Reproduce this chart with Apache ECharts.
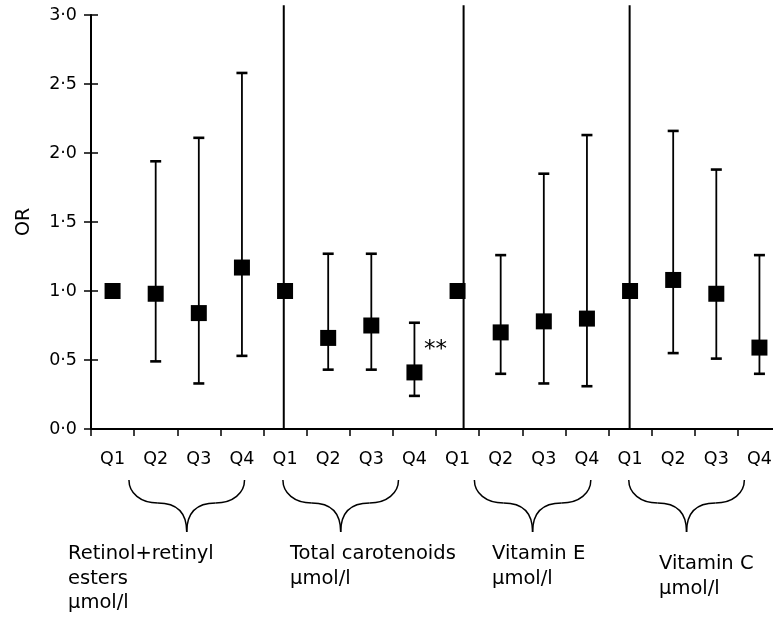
<!DOCTYPE html>
<html>
<head>
<meta charset="utf-8">
<title>OR by quartile</title>
<script src="https://cdn.jsdelivr.net/npm/echarts@6/dist/echarts.min.js"></script>
<style>
  html, body { margin: 0; padding: 0; background: #fff; }
  #chart { width: 773px; height: 617px; }
</style>
</head>
<body>
<div id="chart"></div>
<script>
// quartile categories, four per nutrient
var quartiles = ['Q1', 'Q2', 'Q3', 'Q4', 'Q1', 'Q2', 'Q3', 'Q4',
                 'Q1', 'Q2', 'Q3', 'Q4', 'Q1', 'Q2', 'Q3', 'Q4'];
var nutrients = ['Retinol+retinyl\nesters\nµmol/l', 'Total carotenoids\nµmol/l',
                 'Vitamin E\nµmol/l', 'Vitamin C\nµmol/l'];
// odds ratios and 95% CI (Q1 is the reference, no CI)
var oddsRatio = [1.00, 0.98, 0.84, 1.17, 1.00, 0.66, 0.75, 0.41,
                 1.00, 0.70, 0.78, 0.80, 1.00, 1.08, 0.98, 0.59];
var ciLow  = [null, 0.49, 0.33, 0.53, null, 0.43, 0.43, 0.24,
              null, 0.40, 0.33, 0.31, null, 0.55, 0.51, 0.40];
var ciHigh = [null, 1.94, 2.11, 2.58, null, 1.27, 1.27, 0.77,
              null, 1.26, 1.85, 2.13, null, 2.16, 1.88, 1.26];
var significant = ['', '', '', '', '', '', '', '**', '', '', '', '', '', '', '', ''];

var FONT = 'DejaVu Sans';
var chart = echarts.init(document.getElementById('chart'), null, { renderer: 'canvas' });

var errData = [];
for (var i = 0; i < oddsRatio.length; i++) {
  if (ciLow[i] != null) errData.push([i, ciLow[i], ciHigh[i]]);
}
var pointData = oddsRatio.map(function (v, i) {
  var item = { value: v };
  if (significant[i]) {
    item.label = {
      show: true, formatter: significant[i], position: [29, -14],
      align: 'center', verticalAlign: 'middle',
      fontSize: 23, fontFamily: FONT, color: '#000'
    };
  }
  return item;
});

// divider lines sit between groups (x in quartile units, 0..16)
var dividers = [[4.47], [8.64], [12.49]];

var yFmt = function (v) { return v.toFixed(1).replace('.', '·'); };

chart.setOption({
  animation: false,
  backgroundColor: '#fff',
  grid: { left: 91, top: 15, width: 690, height: 414, containLabel: false, outerBoundsMode: 'none' },
  xAxis: [{
    type: 'category',
    data: quartiles,
    boundaryGap: true,
    axisLine: { lineStyle: { color: '#000', width: 2 } },
    axisTick: { show: true, length: 7, lineStyle: { color: '#000', width: 1.5 } },
    axisLabel: { interval: 0, margin: 21, color: '#000', fontSize: 17.5, fontFamily: FONT, hideOverlap: false },
    splitLine: { show: false }
  }, {
    type: 'value', min: 0, max: 16, show: false
  }],
  yAxis: [{
    type: 'value', min: 0, max: 3, interval: 0.5,
    name: 'OR', nameLocation: 'middle', nameGap: 57, nameRotate: 90,
    nameTextStyle: { color: '#000', fontSize: 19, fontFamily: FONT },
    axisLine: { show: true, lineStyle: { color: '#000', width: 2 } },
    axisTick: { show: true, length: 7, lineStyle: { color: '#000', width: 1.5 } },
    axisLabel: { margin: 14, color: '#000', fontSize: 17.5, fontFamily: FONT, formatter: yFmt },
    splitLine: { show: false }
  }, {
    type: 'value', min: 0, max: 3, interval: 0.5, position: 'left',
    axisLine: { show: false },
    axisTick: { show: true, inside: true, length: 7, lineStyle: { color: '#000', width: 1.5 } },
    axisLabel: { show: false },
    splitLine: { show: false }
  }],
  series: [{
    type: 'custom',
    name: 'dividers',
    xAxisIndex: 1,
    yAxisIndex: 0,
    z: 1,
    clip: false,
    data: dividers,
    renderItem: function (params, api) {
      var b = api.coord([api.value(0), 0]);
      var t = api.coord([api.value(0), 3.07]);
      return {
        type: 'line',
        shape: { x1: b[0], y1: b[1], x2: t[0], y2: t[1] },
        style: { stroke: '#000', lineWidth: 2 }
      };
    }
  }, {
    type: 'custom',
    name: 'ci',
    xAxisIndex: 0,
    yAxisIndex: 0,
    z: 2,
    encode: { x: 0, y: [1, 2] },
    data: errData,
    renderItem: function (params, api) {
      var lo = api.coord([api.value(0), api.value(1)]);
      var hi = api.coord([api.value(0), api.value(2)]);
      var cap = 5.5;
      return {
        type: 'group',
        children: [
          { type: 'line', shape: { x1: lo[0], y1: lo[1], x2: hi[0], y2: hi[1] },
            style: { stroke: '#000', lineWidth: 1.8 } },
          { type: 'line', shape: { x1: lo[0] - cap, y1: lo[1], x2: lo[0] + cap, y2: lo[1] },
            style: { stroke: '#000', lineWidth: 2.6 } },
          { type: 'line', shape: { x1: hi[0] - cap, y1: hi[1], x2: hi[0] + cap, y2: hi[1] },
            style: { stroke: '#000', lineWidth: 2.6 } }
        ]
      };
    }
  }, {
    type: 'scatter',
    name: 'OR',
    xAxisIndex: 0,
    yAxisIndex: 0,
    z: 3,
    symbol: 'rect',
    symbolSize: 16,
    itemStyle: { color: '#000', opacity: 1 },
    data: pointData
  }]
});

// braces under each nutrient group + the group names
var braceSpan = [[0.88, 3.56], [4.45, 7.13], [8.89, 11.59], [12.47, 15.15]];
var labelPos = [[68, 542], [290, 542], [492, 542], [659, 552]];
var top0 = 480, mid0 = 503, tip0 = 532;
var graphics = [];
var bez = function (x1, y1, c1x, c1y, c2x, c2y, x2, y2) {
  return {
    type: 'bezierCurve',
    shape: { x1: x1, y1: y1, cpx1: c1x, cpy1: c1y, cpx2: c2x, cpy2: c2y, x2: x2, y2: y2 },
    style: { stroke: '#000', lineWidth: 1.5, fill: null }
  };
};
braceSpan.forEach(function (s, g) {
  var L = chart.convertToPixel({ xAxisIndex: 1 }, s[0]);
  var R = chart.convertToPixel({ xAxisIndex: 1 }, s[1]);
  var h = (R - L) / 2, C = L + h;
  graphics.push(bez(L, top0, L, top0 + 13, L + 0.2 * h, mid0, L + 0.5 * h, mid0));
  graphics.push(bez(L + 0.5 * h, mid0, C - 0.15 * h, mid0, C, mid0 + 10, C, tip0));
  graphics.push(bez(R, top0, R, top0 + 13, R - 0.2 * h, mid0, R - 0.5 * h, mid0));
  graphics.push(bez(R - 0.5 * h, mid0, C + 0.15 * h, mid0, C, mid0 + 10, C, tip0));
  graphics.push({
    type: 'text',
    x: labelPos[g][0],
    y: labelPos[g][1],
    style: {
      text: nutrients[g], fill: '#000', fontSize: 19.5, fontFamily: FONT,
      lineHeight: 24.5, verticalAlign: 'top', align: 'left'
    }
  });
});
chart.setOption({ graphic: graphics });
</script>
</body>
</html>
